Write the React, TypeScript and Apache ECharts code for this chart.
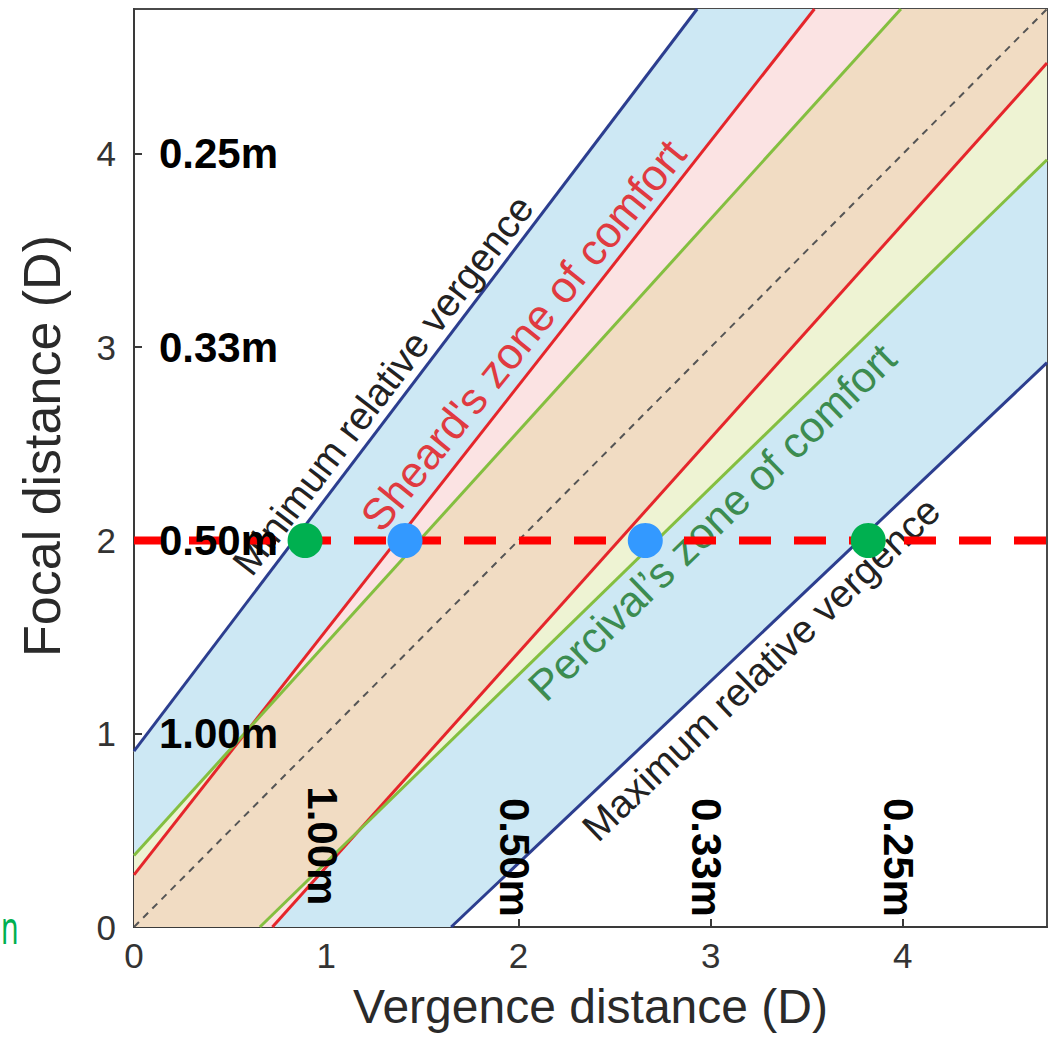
import React, { useEffect, useRef } from "react";
import * as echarts from "echarts";

// ---- Data (diopters) ----
const AXIS_MAX = 4.75;
const distanceDiopters = [1, 2, 3, 4];
const distanceMeters = ["1.00m", "0.50m", "0.33m", "0.25m"];

// Boundary lines, given by the two points where each one meets the plot frame
const minRelVergence = [[0, 0.91], [2.93, 4.75]];
const maxRelVergence = [[1.65, 0], [4.75, 2.92]];
const sheardUpper = [[0, 0.27], [3.54, 4.75]];
const sheardLower = [[0.72, 0], [4.75, 4.47]];
const percivalUpper = [[0, 0.37], [3.99, 4.75]];
const percivalLower = [[0.655, 0], [4.75, 3.97]];
const identityLine = [[0, 0], [4.75, 4.75]];
const focalLine = [[0, 2], [4.75, 2]];
const greenPoints = [[0.89, 2], [3.82, 2]];
const bluePoints = [[1.41, 2], [2.66, 2]];

const FONT = "'Liberation Sans', Arial, Helvetica, sans-serif";

type Pt = number[];
type Line = number[][];

function lineY(l: Line, x: number) {
  const [[x0, y0], [x1, y1]] = l;
  return y0 + ((x - x0) * (y1 - y0)) / (x1 - x0);
}
function slope(l: Line) {
  return (l[1][1] - l[0][1]) / (l[1][0] - l[0][0]);
}
function breakpoints(lines: Line[], a: number, b: number) {
  const xs = [a, b];
  for (let i = 0; i < lines.length; i++)
    for (let j = i + 1; j < lines.length; j++) {
      const s1 = slope(lines[i]), s2 = slope(lines[j]);
      if (s1 === s2) continue;
      const c1 = lineY(lines[i], 0), c2 = lineY(lines[j], 0);
      const x = (c2 - c1) / (s1 - s2);
      if (x > a && x < b) xs.push(x);
    }
  return xs.sort((p, q) => p - q);
}
function bandPolygon(uppers: Line[], lowers: Line[]): Pt[] {
  const A = -3, B = 8;
  const up = breakpoints(uppers, A, B).map((x) => [x, Math.min(...uppers.map((l) => lineY(l, x)))]);
  const lo = breakpoints(lowers, A, B)
    .map((x) => [x, Math.max(...lowers.map((l) => lineY(l, x)))])
    .reverse();
  return up.concat(lo);
}
function clipHalf(pts: Pt[], inside: (p: Pt) => boolean, inter: (a: Pt, b: Pt) => Pt) {
  const out: Pt[] = [];
  for (let i = 0; i < pts.length; i++) {
    const cur = pts[i];
    const prev = pts[(i + pts.length - 1) % pts.length];
    const ci = inside(cur), pi = inside(prev);
    if (ci) {
      if (!pi) out.push(inter(prev, cur));
      out.push(cur);
    } else if (pi) out.push(inter(prev, cur));
  }
  return out;
}
const interX = (xv: number) => (a: Pt, b: Pt) => {
  const t = (xv - a[0]) / (b[0] - a[0]);
  return [xv, a[1] + t * (b[1] - a[1])];
};
const interY = (yv: number) => (a: Pt, b: Pt) => {
  const t = (yv - a[1]) / (b[1] - a[1]);
  return [a[0] + t * (b[0] - a[0]), yv];
};
function clipRect(pts: Pt[], x0: number, x1: number, y0: number, y1: number) {
  let p = clipHalf(pts, (q) => q[0] >= x0, interX(x0));
  p = clipHalf(p, (q) => q[0] <= x1, interX(x1));
  p = clipHalf(p, (q) => q[1] >= y0, interY(y0));
  p = clipHalf(p, (q) => q[1] <= y1, interY(y1));
  return p;
}

const bands = [
  { uppers: [minRelVergence], lowers: [maxRelVergence], color: "#cde8f4" },
  { uppers: [sheardUpper], lowers: [sheardLower], color: "#fbe3e3" },
  { uppers: [percivalUpper], lowers: [percivalLower], color: "#eef3d3" },
  { uppers: [sheardUpper, percivalUpper], lowers: [sheardLower, percivalLower], color: "#f1dcc3" },
];

function lineSeries(name: string, data: Line, color: string, width: number, type: any = "solid", z = 3) {
  return {
    name,
    type: "line",
    data,
    showSymbol: false,
    symbol: "none",
    silent: true,
    z,
    lineStyle: { color, width, type },
  };
}

export default function App() {
  const ref = useRef<HTMLDivElement>(null);
  useEffect(() => {
    if (!ref.current) return;
    const chart = echarts.init(ref.current, undefined, { renderer: "svg" });
    const axisCommon = {
      type: "value",
      min: 0,
      max: AXIS_MAX,
      interval: 1,
      splitLine: { show: false },
      axisLine: { show: true, lineStyle: { color: "#3a3a3a", width: 2 } },
      axisTick: { show: true, inside: true, length: 8, lineStyle: { color: "#3a3a3a", width: 2 } },
      nameLocation: "middle",
    };
    chart.setOption({
      animation: false,
      backgroundColor: "#ffffff",
      grid: {
        left: 134,
        right: 5,
        top: 9,
        bottom: 116,
        show: true,
        borderColor: "#4a4a4a",
        borderWidth: 2,
        backgroundColor: "transparent",
      },
      xAxis: {
        ...axisCommon,
        name: "Vergence distance (D)",
        nameGap: 55,
        nameTextStyle: { fontFamily: FONT, fontSize: 48, color: "#2a2a2a" },
        axisLabel: { fontFamily: FONT, fontSize: 35, color: "#333", margin: 11, showMaxLabel: false },
      },
      yAxis: {
        ...axisCommon,
        name: "Focal distance (D)",
        nameGap: 66,
        nameTextStyle: { fontFamily: FONT, fontSize: 52, color: "#2a2a2a", padding: [0, 0, 0, 44] },
        axisLabel: { fontFamily: FONT, fontSize: 35, color: "#333", margin: 18, showMaxLabel: false },
      },
      series: [
        {
          name: "zones",
          type: "custom",
          silent: true,
          z: 1,
          data: bands.map((_, i) => [i, 0]),
          renderItem: (params: any, api: any) => {
            const band = bands[api.value(0)];
            const poly = clipRect(bandPolygon(band.uppers, band.lowers), 0, AXIS_MAX, 0, AXIS_MAX);
            return {
              type: "polygon",
              shape: { points: poly.map((p) => api.coord(p)) },
              style: { fill: band.color, stroke: null },
            };
          },
        },
        lineSeries("Identity", identityLine, "#555555", 2, [7, 6]),
        lineSeries("Minimum relative vergence", minRelVergence, "#2c3e8f", 3),
        lineSeries("Maximum relative vergence", maxRelVergence, "#2c3e8f", 3),
        lineSeries("Sheard upper", sheardUpper, "#e5262b", 3),
        lineSeries("Sheard lower", sheardLower, "#e5262b", 3),
        lineSeries("Percival upper", percivalUpper, "#84bf40", 3),
        lineSeries("Percival lower", percivalLower, "#84bf40", 3),
        lineSeries("Focal 2D", focalLine, "#ff0000", 8, [32, 23], 5),
        {
          name: "green points",
          type: "scatter",
          data: greenPoints,
          symbolSize: 35,
          z: 6,
          silent: true,
          itemStyle: { color: "#00b050", opacity: 1 },
        },
        {
          name: "blue points",
          type: "scatter",
          data: bluePoints,
          symbolSize: 35,
          z: 6,
          silent: true,
          itemStyle: { color: "#3399ff", opacity: 1 },
        },
        {
          name: "focal distance labels",
          type: "scatter",
          symbolSize: 0,
          z: 7,
          silent: true,
          data: distanceDiopters.map((d, i) => ({ value: [0.13, d], name: distanceMeters[i] })),
          label: {
            show: true,
            position: "right",
            distance: 0,
            formatter: (p: any) => p.name,
            fontFamily: FONT,
            fontWeight: "bold",
            fontSize: 42,
            color: "#000",
            opacity: 1,
          },
        },
        {
          name: "vergence distance labels",
          type: "scatter",
          symbolSize: 0,
          z: 7,
          silent: true,
          data: distanceDiopters.map((d, i) => ({ value: [d - 0.02, i === 0 ? 0.42 : 0.36], name: distanceMeters[i] })),
          label: {
            show: true,
            position: "inside",
            rotate: -90,
            align: "center",
            verticalAlign: "middle",
            formatter: (p: any) => p.name,
            fontFamily: FONT,
            fontWeight: "bold",
            fontSize: 42,
            color: "#000",
            opacity: 1,
          },
        },
      ],
      graphic: [
        {
          type: "text",
          x: 383,
          y: 385,
          rotation: (52.5 * Math.PI) / 180,
          z: 4,
          silent: true,
          style: { text: "Minimum relative vergence", fontFamily: FONT, fontSize: 39, fill: "#222", align: "center", verticalAlign: "middle" },
        },
        {
          type: "text",
          x: 523,
          y: 335,
          rotation: (51 * Math.PI) / 180,
          z: 4,
          silent: true,
          style: { text: "Sheard's zone of comfort", fontFamily: FONT, fontSize: 44, fill: "#e03a40", align: "center", verticalAlign: "middle" },
        },
        {
          type: "text",
          x: 712,
          y: 522,
          rotation: (44 * Math.PI) / 180,
          z: 4,
          silent: true,
          style: { text: "Percival\u2019s zone of comfort", fontFamily: FONT, fontSize: 43, fill: "#3c8c50", align: "center", verticalAlign: "middle" },
        },
        {
          type: "text",
          x: 761,
          y: 669,
          rotation: (43.7 * Math.PI) / 180,
          z: 4,
          silent: true,
          style: { text: "Maximum relative vergence", fontFamily: FONT, fontSize: 39, fill: "#222", align: "center", verticalAlign: "middle" },
        },
        {
          type: "text",
          x: 1,
          y: 926,
          scaleX: 0.62,
          z: 4,
          silent: true,
          style: { text: "n", fontFamily: "'Noto Sans', sans-serif", fontSize: 46, fill: "#00b050", align: "left", verticalAlign: "middle" },
        },
      ],
    });
    return () => chart.dispose();
  }, []);
  return <div ref={ref} style={{ position: "absolute", left: 0, top: 0, width: 1052, height: 1043 }} />;
}
